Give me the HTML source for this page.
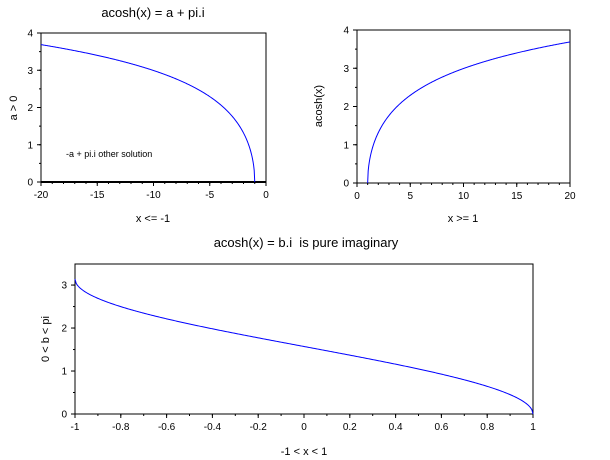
<!DOCTYPE html>
<html><head><style>
body{margin:0;background:#fff}
svg{display:block;font-family:"Liberation Sans",sans-serif}
</style></head><body>
<svg id="s" width="610" height="460" xmlns="http://www.w3.org/2000/svg">
<rect width="610" height="460" fill="#fff"/>
<text x="153" y="17" font-size="13" text-anchor="middle">acosh(x) = a + pi.i</text>
<text x="306" y="247" font-size="13" text-anchor="middle">acosh(x) = b.i &#160;is pure imaginary</text>
<text x="153" y="222" font-size="11" text-anchor="middle">x &lt;= -1</text>
<text x="463" y="222" font-size="11" text-anchor="middle">x &gt;= 1</text>
<text x="304" y="455" font-size="11" text-anchor="middle">-1 &lt; x &lt; 1</text>
<text transform="translate(17,108) rotate(-90)" font-size="11" text-anchor="middle">a &gt; 0</text>
<text transform="translate(322,106) rotate(-90)" font-size="11" text-anchor="middle">acosh(x)</text>
<text transform="translate(49,339) rotate(-90)" font-size="11" text-anchor="middle">0 &lt; b &lt; pi</text>
<text x="66" y="157" font-size="9">-a + pi.i other solution</text>
<g id="g"></g>
</svg>
<script>
var g=document.getElementById('g'),h='';
function ax(L,R,T,B,x0,x1,y0,y1,xt,xm,yt,ym,xlab,fn,thick){
 var sx=function(v){return L+(v-x0)/(x1-x0)*(R-L)},sy=function(v){return B-(v-y0)/(y1-y0)*(B-T)};
 h+='<rect x="'+L+'" y="'+T+'" width="'+(R-L)+'" height="'+(B-T)+'" fill="none" stroke="#000" stroke-width="1"/>';
 for(var v=x0;v<=x1+1e-9;v+=xm){var X=sx(v);h+='<line x1="'+X+'" y1="'+B+'" x2="'+X+'" y2="'+(B+2)+'" stroke="#000"/>';}
 for(var i=0;i<xt.length;i++){var X=sx(xt[i]);h+='<line x1="'+X+'" y1="'+B+'" x2="'+X+'" y2="'+(B+4)+'" stroke="#000"/><text x="'+X+'" y="'+(B+16)+'" font-size="10" text-anchor="middle">'+xlab(xt[i])+'</text>';}
 for(var v=y0;v<=y1+1e-9;v+=ym){var Y=sy(v);h+='<line x1="'+L+'" y1="'+Y+'" x2="'+(L-2)+'" y2="'+Y+'" stroke="#000"/>';}
 for(var i=0;i<yt.length;i++){var Y=sy(yt[i]);h+='<line x1="'+L+'" y1="'+Y+'" x2="'+(L-4)+'" y2="'+Y+'" stroke="#000"/><text x="'+(L-8)+'" y="'+(Y+3.5)+'" font-size="10" text-anchor="end">'+yt[i]+'</text>';}
 if(thick)h+='<line x1="'+L+'" y1="'+B+'" x2="'+R+'" y2="'+B+'" stroke="#000" stroke-width="2"/>';
 var p='';for(var k=0;k<=400;k++){var x=x0+(x1-x0)*k/400;var y=fn(x);if(isNaN(y))continue;p+=(p?'L':'M')+sx(x).toFixed(2)+','+sy(y).toFixed(2);}
 h+='<path d="'+p+'" fill="none" stroke="#00f" stroke-width="1"/>';
}
ax(41,266,33,182,-20,0,0,4,[-20,-15,-10,-5,0],1,[0,1,2,3,4],0.5,function(v){return v},function(x){return x<=-1?Math.acosh(-x):NaN},true);
ax(357,570,30,183,0,20,0,4,[0,5,10,15,20],1,[0,1,2,3,4],0.5,function(v){return v},function(x){return x>=1?Math.acosh(x):NaN},false);
ax(75,533,264,414,-1,1,0,3.49,[-1,-0.8,-0.6,-0.4,-0.2,0,0.2,0.4,0.6,0.8,1],0.1,[0,1,2,3],0.5,function(v){return Math.abs(v)<1e-9?'0':String(+v.toFixed(1))},function(x){return Math.acos(Math.max(-1,Math.min(1,x)))},false);
g.innerHTML=h;
</script>
</body></html>
